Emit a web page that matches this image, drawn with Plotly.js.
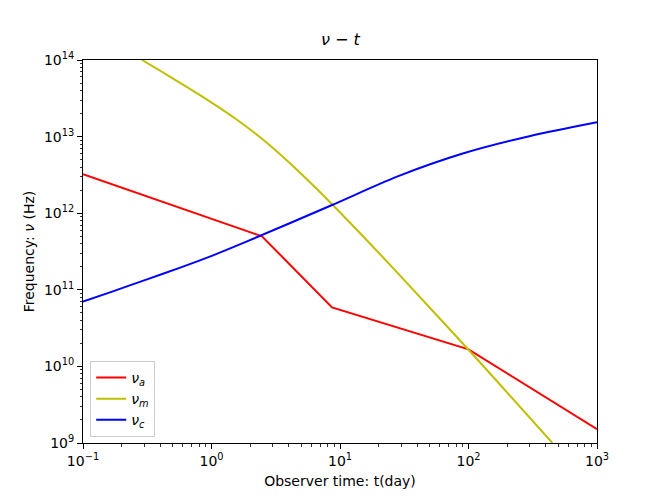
<!DOCTYPE html>
<html>
<head>
<meta charset="utf-8">
<script src="https://cdn.plot.ly/plotly-3.0.1.min.js"></script>
<style>
  html, body { margin: 0; padding: 0; background: #fff; }
  #chart { width: 664px; height: 498px; }
</style>
</head>
<body>
<div id="chart"></div>
<script>
// values (days, Hz)
var tA  = [0.1, 2.47, 8.67, 100, 1000];
var nuA = [3.22e12, 5.0e11, 5.9e10, 1.67e10, 1.52e9];

var tM  = [0.288, 0.463, 0.843, 1.53, 2.51, 3.98, 6.31, 8.67, 14.4, 27.8, 100, 450];
var nuM = [1e14, 6.21e13, 3.35e13, 1.72e13, 9.16e12, 4.66e12, 2.23e12, 1.31e12, 5.43e11, 1.69e11, 1.65e10, 1.0e9];

var tC  = [0.1, 0.173, 0.315, 0.571, 1.04, 1.89, 8.41, 27.8, 91.6, 303, 1000];
var nuC = [7.0e10, 9.62e10, 1.37e11, 1.95e11, 2.84e11, 4.28e11, 1.25e12, 3.0e12, 6.05e12, 1.02e13, 1.54e13];

var xTicks = [0.1, 1, 10, 100, 1000];
var xText  = ['10<sup>\u22121</sup>', '10<sup>0</sup>', '10<sup>1</sup>', '10<sup>2</sup>', '10<sup>3</sup>'];
var yTicks = [1e9, 1e10, 1e11, 1e12, 1e13, 1e14];
var yText  = ['10<sup>9</sup>', '10<sup>10</sup>', '10<sup>11</sup>', '10<sup>12</sup>', '10<sup>13</sup>', '10<sup>14</sup>'];

// minor tick positions: 2..9 in every decade
function minorVals(decades) {
  var out = [];
  decades.slice(0, -1).forEach(function (d) {
    for (var k = 2; k <= 9; k++) out.push(k * d);
  });
  return out;
}

function drawChart() {
  var data = [
    { x: tA, y: nuA, name: '<i>\u03bd<sub>a</sub></i>', type: 'scatter', mode: 'lines',
      line: { color: '#ff0000', width: 2 } },
    { x: tM, y: nuM, name: '<i>\u03bd<sub>m</sub></i>', type: 'scatter', mode: 'lines',
      line: { color: '#bfbf00', width: 2, shape: 'spline', smoothing: 1 } },
    { x: tC, y: nuC, name: '<i>\u03bd<sub>c</sub></i>', type: 'scatter', mode: 'lines',
      line: { color: '#0000ff', width: 2, shape: 'spline', smoothing: 0.8 } }
  ];

  var axisBase = {
    type: 'log',
    showline: true, mirror: true, linecolor: '#000', linewidth: 1,
    showgrid: false, zeroline: false,
    ticks: 'outside', ticklen: 5, tickwidth: 1, tickcolor: '#000',
    tickfont: { family: 'DejaVu Sans', size: 14, color: '#000' }
  };
  var minorBase = { ticks: 'outside', ticklen: 2.5, tickwidth: 0.8, tickcolor: '#000', showgrid: false };

  var layout = {
    width: 664, height: 498,
    margin: { l: 83, r: 67, t: 60, b: 55 },
    paper_bgcolor: '#fff', plot_bgcolor: '#fff',
    showlegend: true,
    title: {
      text: '<i>\u03bd</i> \u2212 <i>t</i>',
      font: { family: 'DejaVu Sans', size: 16, color: '#000' },
      x: 0.5125, xanchor: 'center', y: 0.92, yanchor: 'middle'
    },
    xaxis: Object.assign({}, axisBase, {
      range: [-1, 3], tickvals: xTicks, ticktext: xText,
      minor: Object.assign({ tickvals: minorVals(xTicks) }, minorBase),
      title: { text: 'Observer time: t(day)', font: { family: 'DejaVu Sans', size: 14, color: '#000' }, standoff: 8 }
    }),
    yaxis: Object.assign({}, axisBase, {
      range: [9, 14], tickvals: yTicks, ticktext: yText,
      minor: Object.assign({ tickvals: minorVals(yTicks) }, minorBase),
      title: { text: 'Frequency: <i>\u03bd</i> (Hz)', font: { family: 'DejaVu Sans', size: 14, color: '#000' }, standoff: 6 }
    }),
    legend: {
      x: 0.014, y: 0.016, xanchor: 'left', yanchor: 'bottom',
      bgcolor: 'rgba(255,255,255,0.8)', bordercolor: '#cccccc', borderwidth: 1,
      font: { family: 'DejaVu Sans', size: 14, color: '#000' },
      tracegroupgap: 0
    }
  };

  Plotly.newPlot('chart', data, layout, { displayModeBar: false, staticPlot: true });
}

drawChart();
</script>
</body>
</html>
